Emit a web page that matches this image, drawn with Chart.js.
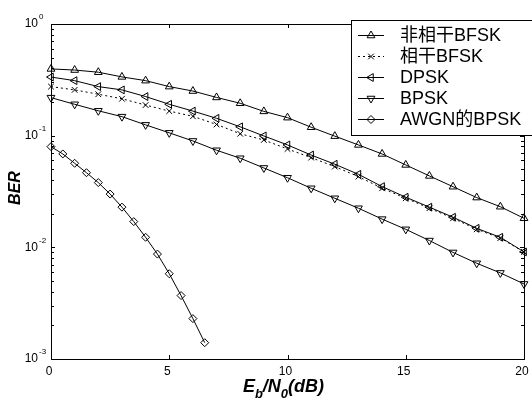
<!DOCTYPE html>
<html>
<head>
<meta charset="utf-8">
<script src="https://cdn.jsdelivr.net/npm/chart.js@4/dist/chart.umd.min.js"></script>
<style>
  html, body { margin: 0; padding: 0; background: #fff; }
  #wrap { width: 532px; height: 400px; }
</style>
</head>
<body>
<div id="wrap"><canvas id="berChart" width="532" height="400"></canvas></div>
<script>
// Eb/N0 (dB) sample points
const snrDb = [0, 1, 2, 3, 4, 5, 6, 7, 8, 9, 10, 11, 12, 13, 14, 15, 16, 17, 18, 19, 20];
const awgnSnrDb = [0, 0.5, 1, 1.5, 2, 2.5, 3, 3.5, 4, 4.5, 5, 5.5, 6, 6.5];

// BER values
const nonCohBfsk = [0.396, 0.387, 0.370, 0.336, 0.311, 0.275, 0.251, 0.220, 0.195, 0.165, 0.145,
                    0.119, 0.099, 0.0826, 0.0686, 0.0547, 0.0436, 0.0349, 0.0279, 0.0231, 0.0182];
const cohBfsk = [0.275, 0.257, 0.235, 0.214, 0.188, 0.166, 0.149, 0.126, 0.104, 0.0915, 0.076,
                 0.0636, 0.0528, 0.043, 0.0338, 0.0275, 0.0224, 0.0182, 0.0145, 0.0121, 0.0091];
const dpsk = [0.335, 0.311, 0.275, 0.257, 0.224, 0.191, 0.166, 0.143, 0.120, 0.0994, 0.0826,
              0.0671, 0.0555, 0.0451, 0.035, 0.0281, 0.0229, 0.0186, 0.0148, 0.0123, 0.0091];
const bpsk = [0.219, 0.191, 0.167, 0.148, 0.125, 0.106, 0.0897, 0.074, 0.0628, 0.0514, 0.042,
              0.0338, 0.0275, 0.0224, 0.0179, 0.0145, 0.0115, 0.0090, 0.0072, 0.0059, 0.0047];
const awgnBpsk = [0.0797, 0.0686, 0.0566, 0.0466, 0.038, 0.030, 0.0229, 0.017, 0.0123, 0.0087,
                  0.0058, 0.0037, 0.0023, 0.0014];

const seriesLabels = ['非相干BFSK', '相干BFSK', 'DPSK', 'BPSK', 'AWGN的BPSK'];

// axis ticks
const xTicks = [0, 5, 10, 15, 20];
const yDecades = [1, 0.1, 0.01, 0.001];
const yExponents = ['0', '-1', '-2', '-3'];

const FONT = '"Liberation Sans", Arial, "Noto Sans CJK SC", sans-serif';

function toPoints(xs, ys) {
    return ys.map((y, i) => ({x: xs[i], y: y}));
}

function makeSet(label, xs, ys, style, rotation, radius, dash) {
    return {
        label: label,
        data: toPoints(xs, ys),
        borderColor: '#000',
        borderWidth: 1,
        borderDash: dash || [],
        pointStyle: style,
        pointRotation: rotation,
        pointRadius: radius,
        pointBorderColor: '#000',
        pointBorderWidth: 1,
        pointBackgroundColor: 'rgba(0,0,0,0)',
        tension: 0,
        clip: false
    };
}

// frame, inward ticks, tick labels and axis titles (matlab look)
const framePlugin = {
    id: 'frame',
    afterDatasetsDraw(chart) {
        const ctx = chart.ctx;
        const a = chart.chartArea;
        const xs = chart.scales.x;
        const ys = chart.scales.y;
        ctx.save();
        ctx.strokeStyle = '#000';
        ctx.lineWidth = 1;
        ctx.strokeRect(Math.round(a.left) + 0.5, Math.round(a.top) + 0.5,
                       Math.round(a.right - a.left), Math.round(a.bottom - a.top));

        ctx.beginPath();
        xTicks.forEach(v => {
            const px = Math.round(xs.getPixelForValue(v)) + 0.5;
            ctx.moveTo(px, a.bottom); ctx.lineTo(px, a.bottom - 4);
            ctx.moveTo(px, a.top); ctx.lineTo(px, a.top + 4);
        });
        yDecades.forEach(d => {
            const py = Math.round(ys.getPixelForValue(d)) + 0.5;
            ctx.moveTo(a.left, py); ctx.lineTo(a.left + 4, py);
            ctx.moveTo(a.right, py); ctx.lineTo(a.right - 4, py);
            if (d > 0.001) {
                for (let m = 2; m <= 9; m++) {
                    const pm = Math.round(ys.getPixelForValue(d * m / 10)) + 0.5;
                    ctx.moveTo(a.left, pm); ctx.lineTo(a.left + 3, pm);
                    ctx.moveTo(a.right, pm); ctx.lineTo(a.right - 3, pm);
                }
            }
        });
        ctx.stroke();

        ctx.fillStyle = '#000';
        ctx.font = '12px ' + FONT;
        ctx.textAlign = 'center';
        ctx.textBaseline = 'middle';
        xTicks.forEach(v => {
            ctx.fillText(String(v), xs.getPixelForValue(v) - 2, a.bottom + 13);
        });

        yDecades.forEach((d, i) => {
            const py = ys.getPixelForValue(d);
            ctx.font = '12px ' + FONT;
            ctx.textAlign = 'right';
            ctx.fillText('10', 38, py);
            ctx.font = '8px ' + FONT;
            ctx.textAlign = 'left';
            ctx.fillText(yExponents[i], 39, py - 7);
        });

        // y title
        ctx.save();
        ctx.translate(16, 188);
        ctx.rotate(-Math.PI / 2);
        ctx.font = 'italic bold 16px ' + FONT;
        ctx.textAlign = 'center';
        ctx.fillText('BER', 0, 0);
        ctx.restore();

        // x title with subscripts
        const big = 'italic bold 18px ' + FONT;
        const small = 'italic bold 13px ' + FONT;
        const parts = [['E', big, 0], ['b', small, 6], ['/N', big, 0], ['0', small, 6], ['(dB)', big, 0]];
        let total = 0;
        parts.forEach(p => { ctx.font = p[1]; total += ctx.measureText(p[0]).width; });
        let cx = (a.left + a.right) / 2 - total / 2 - 4;
        ctx.textAlign = 'left';
        ctx.textBaseline = 'alphabetic';
        parts.forEach(p => {
            ctx.font = p[1];
            ctx.fillText(p[0], cx, 392 + p[2]);
            cx += ctx.measureText(p[0]).width;
        });
        ctx.restore();
    }
};

// boxed legend in the upper right corner
const boxLegendPlugin = {
    id: 'boxLegend',
    afterDraw(chart) {
        const ctx = chart.ctx;
        const boxL = 351.5, boxT = 20.5, boxR = 545, boxB = 135.5;
        ctx.save();
        ctx.fillStyle = '#fff';
        ctx.fillRect(boxL, boxT, boxR - boxL, boxB - boxT);
        ctx.strokeStyle = '#000';
        ctx.lineWidth = 1;
        ctx.strokeRect(boxL, boxT, boxR - boxL, boxB - boxT);

        chart.data.datasets.forEach((ds, i) => {
            const y = Math.round(35 + i * 21) + 0.5;
            ctx.strokeStyle = '#000';
            ctx.lineWidth = 1;
            ctx.setLineDash(ds.borderDash);
            ctx.beginPath();
            ctx.moveTo(358, y);
            ctx.lineTo(384, y);
            ctx.stroke();
            ctx.setLineDash([]);
            ctx.fillStyle = 'rgba(0,0,0,0)';
            Chart.helpers.drawPoint(ctx, {
                pointStyle: ds.pointStyle,
                rotation: ds.pointRotation,
                radius: ds.pointRadius,
                borderWidth: 1
            }, 371, y);
            ctx.fillStyle = '#000';
            ctx.font = '18px ' + FONT;
            ctx.textAlign = 'left';
            ctx.textBaseline = 'middle';
            ctx.fillText(ds.label, 400, y + 1);
        });
        ctx.restore();
    }
};

new Chart(document.getElementById('berChart'), {
    type: 'line',
    data: {
        datasets: [
            makeSet(seriesLabels[0], snrDb, nonCohBfsk, 'triangle', 0, 4.5),
            makeSet(seriesLabels[1], snrDb, cohBfsk, 'crossRot', 0, 4, [2, 3]),
            makeSet(seriesLabels[2], snrDb, dpsk, 'triangle', 270, 4.5),
            makeSet(seriesLabels[3], snrDb, bpsk, 'triangle', 180, 4.5),
            makeSet(seriesLabels[4], awgnSnrDb, awgnBpsk, 'rectRot', 0, 4)
        ]
    },
    options: {
        responsive: false,
        animation: false,
        layout: {padding: {left: 51, right: 8, top: 24, bottom: 41}},
        plugins: {
            legend: {display: false},
            tooltip: {enabled: false}
        },
        scales: {
            x: {type: 'linear', min: 0, max: 20, display: false},
            y: {type: 'logarithmic', min: 0.001, max: 1, display: false}
        }
    },
    plugins: [framePlugin, boxLegendPlugin]
});
</script>
</body>
</html>
